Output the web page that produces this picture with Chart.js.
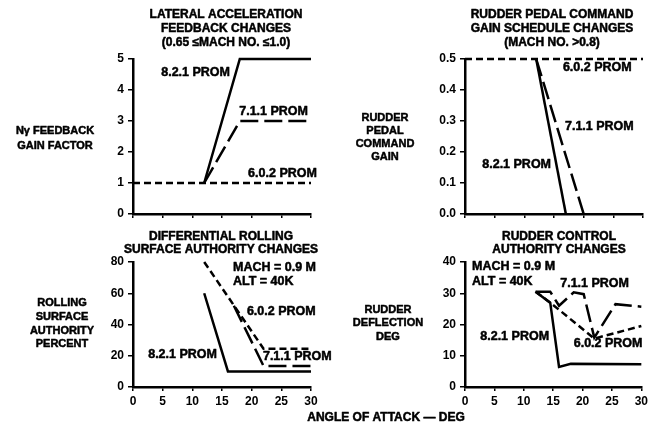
<!DOCTYPE html>
<html><head><meta charset="utf-8">
<script src="https://cdn.jsdelivr.net/npm/chart.js@4/dist/chart.umd.min.js"></script>
<style>
html,body{margin:0;padding:0;background:#fff;}
body{width:651px;height:427px;overflow:hidden;position:relative;}
canvas{position:absolute;left:0;top:0;}
</style></head>
<body>
<canvas id="tl" width="651" height="427"></canvas>
<canvas id="tr" width="651" height="427"></canvas>
<canvas id="bl" width="651" height="427"></canvas>
<canvas id="br" width="651" height="427"></canvas>
<script>
// ---------- data (angle of attack, value) ----------
const xTicks = [0, 5, 10, 15, 20, 25, 30];
const seriesNames = ['8.2.1 PROM', '7.1.1 PROM', '6.0.2 PROM'];

// Lateral acceleration feedback (Ny gain factor)
const latAcc821 = [[12, 1], [18, 5], [30, 5]];
const latAcc711 = [[12, 1], [18, 3], [30, 3]];
const latAcc602 = [[0, 1], [30, 1]];
const latAccTicks = [0, 1, 2, 3, 4, 5];

// Rudder pedal command gain
const pedal821 = [[12, 0.5], [17, 0]];
const pedal711 = [[12, 0.5], [20, 0]];
const pedal602 = [[0, 0.5], [30, 0.5]];
const pedalTicks = [0, 0.1, 0.2, 0.3, 0.4, 0.5];

// Differential rolling surface authority (percent)
const roll821 = [[12, 60], [16, 10], [30, 10]];
const roll711 = [[17, 52], [22, 13.5], [30, 13.5]];
const roll602 = [[12, 80], [22, 24.5], [30, 24.5]];
const rollTicks = [0, 20, 40, 60, 80];

// Rudder control authority (deflection deg)
const rud821 = [[12, 30.5], [14.5, 27], [16, 6.4], [18, 7.4], [30, 7.3]];
const rud711 = [[12, 30.5], [14.5, 30.5], [16, 26], [18.5, 30.3], [20.2, 29.7], [22, 15.8], [25.6, 26.5], [30, 25.7]];
const rud602 = [[12, 30.5], [14.5, 27], [22, 15.5], [30, 19.5]];
const rudTicks = [0, 10, 20, 30, 40];

// ---------- styling ----------
const FONT = '"Liberation Sans", Arial, Helvetica, sans-serif';
const DASH = {'8.2.1 PROM': [], '7.1.1 PROM': [18, 6], '6.0.2 PROM': [7, 4]};

const textPlugin = {
  id: 'texts',
  afterDraw(chart, args, opts) {
    const ctx = chart.ctx;
    ctx.save();
    ctx.fillStyle = '#000';
    ctx.strokeStyle = '#000';
    ctx.lineWidth = 0.5;
    ctx.lineJoin = 'round';
    ctx.textBaseline = 'middle';
    (opts.items || []).forEach(it => {
      ctx.font = 'bold ' + (it.size || 12) + 'px ' + FONT;
      ctx.textAlign = it.align || 'center';
      const x = it.px ? it.x : chart.scales.x.getPixelForValue(it.x);
      const y = it.px ? it.y : chart.scales.y.getPixelForValue(it.y);
      ctx.fillText(it.t, x, y);
      ctx.strokeText(it.t, x, y);
    });
    ctx.restore();
  }
};

function toPts(arr) { return arr.map(p => ({x: p[0], y: p[1]})); }

function makePanel(id, cfg) {
  const YW = 40;
  const XH = cfg.xLabels ? 26 : 8;
  const datasets = cfg.series.map((s, i) => ({
    label: seriesNames[i],
    data: toPts(s),
    borderColor: '#000',
    borderWidth: 2.5,
    borderDash: DASH[seriesNames[i]],
    pointRadius: 0,
    tension: 0,
    fill: false,
    clip: false
  })).reverse();
  new Chart(document.getElementById(id), {
    type: 'line',
    data: {datasets},
    plugins: [textPlugin],
    options: {
      responsive: false,
      animation: false,
      devicePixelRatio: 1,
      layout: {padding: {left: cfg.area.l - YW, right: 651 - cfg.area.r, top: cfg.area.t, bottom: 427 - cfg.area.b - XH}},
      plugins: {
        legend: {display: false},
        tooltip: {enabled: false},
        texts: {items: cfg.texts}
      },
      scales: {
        x: {
          type: 'linear', min: 0, max: 30,
          afterBuildTicks: sc => { sc.ticks = xTicks.map(v => ({value: v})); },
          afterFit: sc => { sc.height = XH; },
          grid: {drawOnChartArea: false, drawTicks: true, tickLength: 4, color: '#000', lineWidth: 1.5},
          border: {display: true, color: '#000', width: 2.5},
          ticks: {display: cfg.xLabels, color: '#000', padding: 3, maxRotation: 0,
                  font: {family: FONT, size: 12, weight: 'bold'}}
        },
        y: {
          type: 'linear', min: 0, max: cfg.yTicks[cfg.yTicks.length - 1],
          afterBuildTicks: sc => { sc.ticks = cfg.yTicks.map(v => ({value: v})); },
          afterFit: sc => { sc.width = YW; },
          grid: {drawOnChartArea: false, drawTicks: true, tickLength: 5, color: '#000', lineWidth: 1.5},
          border: {display: true, color: '#000', width: 2.5},
          ticks: {color: '#000', padding: 4,
                  callback: v => v.toFixed(cfg.dec),
                  font: {family: FONT, size: 12, weight: 'bold'}}
        }
      }
    }
  });
}

makePanel('tl', {
  area: {l: 133, r: 311, t: 59, b: 214}, xLabels: false, yTicks: latAccTicks, dec: 0,
  series: [latAcc821, latAcc711, latAcc602],
  texts: [
    {t: 'LATERAL ACCELERATION', x: 226, y: 15, px: true},
    {t: 'FEEDBACK CHANGES', x: 226, y: 29, px: true},
    {t: '(0.65 \u2264MACH NO. \u22641.0)', x: 226, y: 43, px: true},
    {t: 'N\u03B3 FEEDBACK', x: 55, y: 131, px: true, size: 11},
    {t: 'GAIN FACTOR', x: 55, y: 146, px: true, size: 11},
    {t: '8.2.1 PROM', x: 16.35, y: 4.55, align: 'right', size: 12.5},
    {t: '7.1.1 PROM', x: 17.9, y: 3.29, align: 'left', size: 12.5},
    {t: '6.0.2 PROM', x: 19.4, y: 1.29, align: 'left', size: 12.5}
  ]
});

makePanel('tr', {
  area: {l: 465, r: 643, t: 59, b: 214}, xLabels: false, yTicks: pedalTicks, dec: 1,
  series: [pedal821, pedal711, pedal602],
  texts: [
    {t: 'RUDDER PEDAL COMMAND', x: 552, y: 15, px: true},
    {t: 'GAIN SCHEDULE CHANGES', x: 552, y: 29, px: true},
    {t: '(MACH NO. >0.8)', x: 552, y: 43, px: true},
    {t: 'RUDDER', x: 385, y: 118, px: true, size: 11},
    {t: 'PEDAL', x: 385, y: 131, px: true, size: 11},
    {t: 'COMMAND', x: 385, y: 144, px: true, size: 11},
    {t: 'GAIN', x: 385, y: 157, px: true, size: 11},
    {t: '6.0.2 PROM', x: 16.5, y: 0.471, align: 'left', size: 12.5},
    {t: '7.1.1 PROM', x: 16.85, y: 0.281, align: 'left', size: 12.5},
    {t: '8.2.1 PROM', x: 14.5, y: 0.161, align: 'right', size: 12.5}
  ]
});

makePanel('bl', {
  area: {l: 133, r: 311, t: 262, b: 387}, xLabels: true, yTicks: rollTicks, dec: 0,
  series: [roll821, roll711, roll602],
  texts: [
    {t: 'DIFFERENTIAL ROLLING', x: 221, y: 237, px: true},
    {t: 'SURFACE AUTHORITY CHANGES', x: 221, y: 250, px: true},
    {t: 'ROLLING', x: 62, y: 303, px: true, size: 11},
    {t: 'SURFACE', x: 62, y: 317, px: true, size: 11},
    {t: 'AUTHORITY', x: 62, y: 331, px: true, size: 11},
    {t: 'PERCENT', x: 62, y: 344, px: true, size: 11},
    {t: 'MACH = 0.9 M', x: 16.85, y: 76.2, align: 'left', size: 12.5},
    {t: 'ALT = 40K', x: 16.85, y: 67.2, align: 'left', size: 12.5},
    {t: '6.0.2 PROM', x: 19.2, y: 48, align: 'left', size: 12.5},
    {t: '7.1.1 PROM', x: 21.9, y: 19.2, align: 'left', size: 12.5},
    {t: '8.2.1 PROM', x: 14.15, y: 20.5, align: 'right', size: 12.5}
  ]
});

makePanel('br', {
  area: {l: 465, r: 643, t: 262, b: 387}, xLabels: true, yTicks: rudTicks, dec: 0,
  series: [rud821, rud711, rud602],
  texts: [
    {t: 'RUDDER CONTROL', x: 559, y: 237, px: true},
    {t: 'AUTHORITY CHANGES', x: 559, y: 250, px: true},
    {t: 'RUDDER', x: 388, y: 310, px: true, size: 11},
    {t: 'DEFLECTION', x: 388, y: 323, px: true, size: 11},
    {t: 'DEG', x: 388, y: 337, px: true, size: 11},
    {t: 'MACH = 0.9 M', x: 1.2, y: 38.4, align: 'left', size: 12.5},
    {t: 'ALT = 40K', x: 1.2, y: 33.9, align: 'left', size: 12.5},
    {t: '7.1.1 PROM', x: 16.2, y: 33, align: 'left', size: 12.5},
    {t: '8.2.1 PROM', x: 14.3, y: 16.3, align: 'right', size: 12.5},
    {t: '6.0.2 PROM', x: 18.5, y: 13.8, align: 'left', size: 12.5},
    {t: 'ANGLE OF ATTACK \u2014 DEG', x: 386, y: 418, px: true}
  ]
});
</script>
</body></html>
